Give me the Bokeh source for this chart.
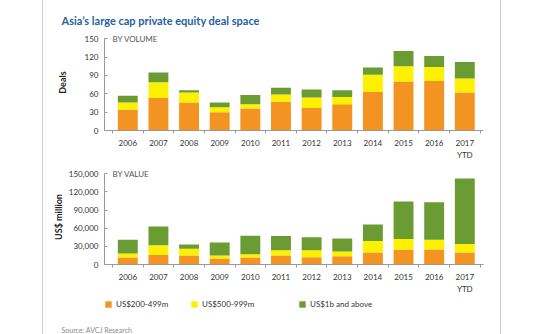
from bokeh.plotting import figure
from bokeh.models import (Range1d, FixedTicker, Label, Legend, LegendItem, Title,
                          NumeralTickFormatter, ColumnDataSource)
from bokeh.layouts import column
from bokeh.embed import file_html
from bokeh.resources import INLINE

# ---------------- data ----------------
years = ["2006", "2007", "2008", "2009", "2010", "2011", "2012", "2013",
         "2014", "2015", "2016", "2017\nYTD"]
bands = ["US$200-499m", "US$500-999m", "US$1b and above"]

deals_200_499 = [34, 53, 46, 30, 36, 47, 37, 43, 63, 80, 81, 62]
deals_500_999 = [12, 26, 16, 8, 7, 12, 17, 12, 28, 25, 23, 23]
deals_1b_plus = [11, 16, 4, 8, 15, 11, 13, 11, 12, 25, 18, 27]

value_200_499 = [11500, 15500, 15000, 10000, 11500, 15000, 12000, 13500, 20000, 24500, 25000, 20000]
value_500_999 = [6500, 16500, 11000, 5000, 5500, 8500, 11500, 8000, 19000, 17500, 16000, 14000]
value_1b_plus = [23000, 31000, 7000, 21500, 30500, 23500, 21500, 21500, 27000, 62000, 62000, 108000]

vol_ticks = [0, 30, 60, 90, 120, 150]
val_ticks = [0, 30000, 60000, 90000, 120000, 150000]

colors = ["#f39322", "#fdf000", "#6b9c34"]
FONT = "Lato"
AXIS_COLOR = "#9a9a9a"
TEXT_COLOR = "#333333"

xpos = list(range(len(years)))
keys = ["a", "b", "c"]


def make_fig(height, top, bottom, ymax, ticks, values, ylabel, label_standoff, panel_label):
    p = figure(width=540, height=height, output_backend="svg", toolbar_location=None,
               x_range=Range1d(-0.76, len(years) - 1 + 0.61),
               y_range=Range1d(0, ymax * 1.047),
               min_border_left=104, min_border_right=57, min_border_top=top,
               min_border_bottom=bottom)
    p.outline_line_color = None
    p.grid.visible = False
    p.background_fill_color = "white"
    p.border_fill_alpha = 0

    src = ColumnDataSource(dict(x=xpos, a=values[0], b=values[1], c=values[2]))
    rs = p.vbar_stack(keys, x="x", width=0.65, color=colors, line_color=None, source=src)

    xa = p.xaxis[0]
    xa.ticker = FixedTicker(ticks=xpos, minor_ticks=[i - 0.5 for i in range(len(years) + 1)])
    xa.major_label_overrides = {i: y for i, y in enumerate(years)}
    xa.major_tick_in = 0
    xa.major_tick_out = 0
    xa.minor_tick_in = 0
    xa.minor_tick_out = 3
    xa.minor_tick_line_color = AXIS_COLOR
    xa.axis_line_color = AXIS_COLOR
    xa.major_label_text_font = FONT
    xa.major_label_text_font_size = "8px"
    xa.major_label_text_color = TEXT_COLOR
    xa.major_label_standoff = 4

    ya = p.yaxis[0]
    ya.ticker = FixedTicker(ticks=ticks)
    ya.bounds = (0, ymax)
    ya.minor_tick_line_color = None
    ya.major_tick_in = 3
    ya.major_tick_out = 0
    ya.major_tick_line_color = AXIS_COLOR
    ya.axis_line_color = AXIS_COLOR
    ya.major_label_text_font = FONT
    ya.major_label_text_font_size = "8px"
    ya.major_label_text_color = TEXT_COLOR
    ya.major_label_standoff = 6
    ya.axis_label = ylabel
    ya.axis_label_text_font = FONT
    ya.axis_label_text_font_size = "9px"
    ya.axis_label_text_font_style = "bold"
    ya.axis_label_text_color = "#222222"
    ya.axis_label_standoff = label_standoff

    p.add_layout(Label(x=8, y=ymax, x_units="screen", y_units="data", text=panel_label,
                       text_font=FONT, text_font_size="8px", text_color="#555555",
                       text_baseline="middle"))
    return p, rs


p1, rs1 = make_fig(162, 34, 32, 150, vol_ticks,
                   [deals_200_499, deals_500_999, deals_1b_plus], "Deals", 14, "BY VOLUME")
p2, rs2 = make_fig(134, 7, 29, 150000, val_ticks,
                   [value_200_499, value_500_999, value_1b_plus], "US$ million", 2, "BY VALUE")
p2.yaxis[0].formatter = NumeralTickFormatter(format="0,0")

p1.title.text = "Asia\u2019s large cap private equity deal space"
p1.title.align = "left"
p1.title.offset = -43
p1.title.standoff = 16
p1.title.text_font = FONT
p1.title.text_font_size = "11px"
p1.title.text_font_style = "bold"
p1.title.text_color = "#1f5f9f"

# legend + source strip (its frame is aligned with the charts' frames)
p3 = figure(width=540, height=38, output_backend="svg", toolbar_location=None,
            x_axis_location=None, y_axis_location=None, min_border=0,
            x_range=Range1d(0, 1), y_range=Range1d(0, 1))
p3.outline_line_color = None
p3.grid.visible = False
p3.background_fill_alpha = 0
p3.border_fill_alpha = 0
swatches = [p3.vbar(x=[0], top=[0], bottom=[0], width=0.01, fill_color=c, line_color=None)
            for c in colors]
for i, (xoff, lab) in enumerate(zip([0, 86, 194], bands)):
    lg = Legend(items=[LegendItem(label=lab, renderers=[swatches[i]])],
                location=(xoff, 13), orientation="horizontal",
                glyph_width=8, glyph_height=8, label_standoff=4, padding=0, margin=0,
                spacing=0, border_line_color=None, background_fill_alpha=0,
                label_text_font=FONT, label_text_font_size="8px",
                label_text_color=TEXT_COLOR, label_height=10)
    p3.add_layout(lg)
p3.add_layout(Title(text="Source: AVCJ Research", align="left", offset=-43, standoff=2,
                    text_font=FONT, text_font_size="7px", text_font_style="normal",
                    text_color="#8a8a8a"), "below")

border_css = ("linear-gradient(to right, transparent 42px, #d0d0d0 42px, #d0d0d0 43px, "
              "transparent 43px, transparent 500px, #d0d0d0 500px, #d0d0d0 501px, "
              "transparent 501px), white")
layout = column(p1, p2, p3, spacing=0, styles={"background": border_css})
open("out.html", "w").write(file_html(layout, INLINE))
